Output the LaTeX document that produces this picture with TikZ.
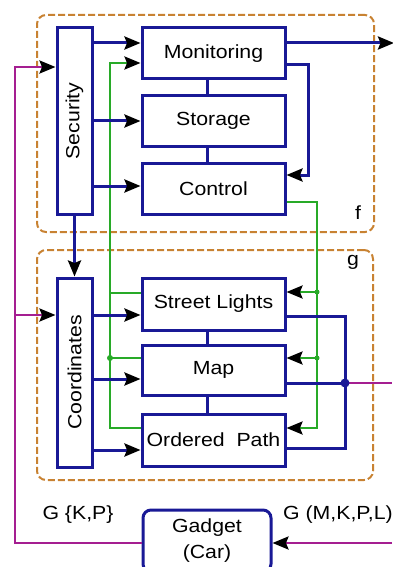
\documentclass[tikz,border=0pt]{standalone}
\usepackage{fontspec}
\usepackage{graphicx}
\newfontfamily\lab[FakeStretch=1.12]{Liberation Sans}
\usetikzlibrary{arrows.meta}
\definecolor{bl}{RGB}{25,25,150}
\definecolor{gr}{RGB}{40,170,40}
\definecolor{mg}{RGB}{165,30,145}
\definecolor{orng}{RGB}{200,130,50}
\begin{document}
\begin{tikzpicture}[x=1pt,y=-1pt,
  box/.style={draw=bl,line width=3pt,fill=white,inner sep=0pt,align=center,
    font=\lab\fontsize{19}{26}\selectfont},
  frame/.style={draw=orng,line width=2pt,dash pattern=on 7pt off 3pt,rounded corners=9pt,inner sep=0pt},
  lbl/.style={inner sep=0pt,font=\lab\fontsize{19}{22}\selectfont},
  bline/.style={draw=bl,line width=3pt},
  gline/.style={draw=gr,line width=2.5pt},
  mline/.style={draw=mg,line width=2.5pt},
  arr/.style={-{Stealth[length=16pt,width=13pt,inset=2.5pt,color=black,fill=black]}}
]
\useasboundingbox (0,0) rectangle (392,567);
% frames
\node[frame,minimum width=337pt,minimum height=217pt] (F) at (205.5,123.5) {};
\node[frame,minimum width=336pt,minimum height=230pt] (G) at (205,365) {};
\node[lbl] (fl) at (358,213) {f};
\node[lbl] (gl) at (353,262) {g};
% rows and columns
\coordinate (r43) at (0,43);
\coordinate (r63) at (0,63);
\coordinate (r65) at (0,65);
\coordinate (r67) at (0,67);
\coordinate (r121) at (0,121);
\coordinate (r175) at (0,175);
\coordinate (r186) at (0,186);
\coordinate (r202) at (0,202);
\coordinate (r292) at (0,292);
\coordinate (r293) at (0,293);
\coordinate (r315) at (0,315);
\coordinate (r316) at (0,316);
\coordinate (r358) at (0,358);
\coordinate (r379) at (0,379);
\coordinate (r383) at (0,383);
\coordinate (r428) at (0,428);
\coordinate (r448) at (0,448);
\coordinate (r450) at (0,450);
\coordinate (r543) at (0,543);
\coordinate (x15) at (15,0);
\coordinate (x110) at (110,0);
\coordinate (x308) at (308,0);
\coordinate (x317) at (317,0);
\coordinate (x345) at (345,0);
\coordinate (outM) at (394,43);
\coordinate (outMap) at (392,383);
\coordinate (inG) at (392,543);
% nodes
\node[box,minimum width=35pt,minimum height=186pt] (Sec) at (74.5,121) {\rotatebox{90}{Security}};
\node[box,minimum width=143pt,minimum height=51pt] (Mon) at (213.5,53.5) {Monitoring};
\node[box,minimum width=143pt,minimum height=50pt] (Sto) at (213.5,121) {Storage};
\node[box,minimum width=143pt,minimum height=51pt] (Con) at (213.5,188.5) {Control};
\node[box,minimum width=143pt,minimum height=52pt] (SL) at (213.5,304) {Street Lights};
\node[box,minimum width=143pt,minimum height=50pt] (Map) at (213.5,370) {Map};
\node[box,minimum width=143pt,minimum height=52pt] (OP) at (213.5,440) {Ordered\ \ Path};
\node[box,minimum width=35pt,minimum height=189pt] (Coo) at (74.5,372.5) {\rotatebox{90}{Coordinates}};
\node[box,rounded corners=8pt,minimum width=128pt,minimum height=62pt] (Gad) at (207,541) {Gadget\\(Car)};
% labels
\node[lbl] (gkp) at (78,515) {G \{K,P\}};
\node[lbl,anchor=west] (gm) at (283,515) {G (M,K,P,L)};
% green left
\draw[gline,arr] (OP.west |- r428) -| (x110 |- r63) -- (Mon.west |- r63);
\draw[gline] (SL.west |- r293) -- (x110 |- r293);
\draw[gline] (Map.west |- r358) -- (x110 |- r358);
\fill[gr] (x110 |- r358) circle (3pt);
% green right
\draw[gline,arr] (Con.east |- r202) -| (x317 |- r428) -- (OP.east |- r428);
\draw[gline,arr] (x317 |- r292) -- (SL.east |- r292);
\draw[gline,arr] (x317 |- r358) -- (Map.east |- r358);
\fill[gr] (x317 |- r292) circle (2.5pt);
\fill[gr] (x317 |- r358) circle (2.5pt);
% magenta
\draw[mline,arr] (Gad.west |- r543) -| (x15 |- r67) -- (Sec.west |- r67);
\draw[mline,arr] (x15 |- r315) -- (Coo.west |- r315);
\draw[mline,arr] (inG) -- (Gad.east |- r543);
\draw[mline] (x345 |- r383) -- (outMap);
% blue
\draw[bline,arr] (Sec.east |- r43) -- (Mon.west |- r43);
\draw[bline,arr] (Sec.east |- r121) -- (Sto.west |- r121);
\draw[bline,arr] (Sec.east |- r186) -- (Con.west |- r186);
\draw[bline,arr] (Sec.south) -- (Coo.north);
\draw[bline,arr] (Mon.east |- r43) -- (outM);
\draw[bline,arr] (Mon.east |- r65) -| (x308 |- r175) -- (Con.east |- r175);
\draw[bline] ([xshift=-6pt]Mon.south) -- ([xshift=-6pt]Sto.north);
\draw[bline] ([xshift=-6pt]Sto.south) -- ([xshift=-6pt]Con.north);
\draw[bline] ([xshift=-6pt]SL.south) -- ([xshift=-6pt]Map.north);
\draw[bline] ([xshift=-6pt]Map.south) -- ([xshift=-6pt]OP.north);
\draw[bline,arr] (Coo.east |- r315) -- (SL.west |- r315);
\draw[bline,arr] (Coo.east |- r379) -- (Map.west |- r379);
\draw[bline,arr] (Coo.east |- r450) -- (OP.west |- r450);
\draw[bline] (SL.east |- r316) -| (x345 |- r448) -- (OP.east |- r448);
\draw[bline] (Map.east |- r383) -- (x345 |- r383);
\fill[bl] (x345 |- r383) circle (4.5pt);
\end{tikzpicture}
\end{document}
